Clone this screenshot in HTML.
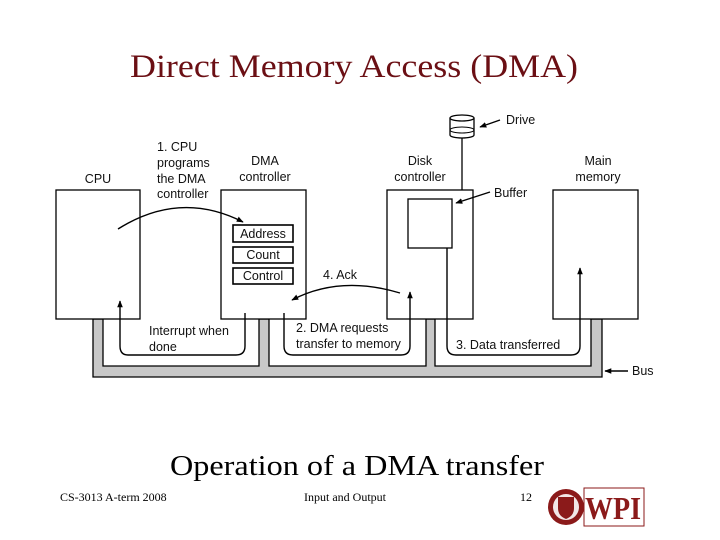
<!DOCTYPE html>
<html><head><meta charset="utf-8"><style>
html,body{margin:0;padding:0;background:#fff;width:720px;height:540px;overflow:hidden}
svg{display:block}
.s{font-family:"Liberation Sans",sans-serif;font-size:12.5px;fill:#111}
</style></head><body>
<svg width="720" height="540" viewBox="0 0 720 540">
<defs><marker id="a" viewBox="0 0 10 10" refX="9" refY="5" markerWidth="7" markerHeight="7" orient="auto-start-reverse" markerUnits="userSpaceOnUse"><path d="M0,1 L10,5 L0,9 z" fill="#000"/></marker></defs>
<text x="354" y="77" text-anchor="middle" font-family="Liberation Serif,serif" font-size="33" fill="#6b0f14" textLength="448" lengthAdjust="spacingAndGlyphs">Direct Memory Access (DMA)</text>

<!-- bus -->
<path d="M93,319 V377 H602 V319 H591 V366 H435 V319 H426 V366 H269 V319 H259 V366 H103 V319 Z" fill="#c8c8c8" stroke="#000" stroke-width="1.3"/>

<g fill="#fff" stroke="#000" stroke-width="1.3">
<rect x="56" y="190" width="84" height="129"/>
<rect x="221" y="190" width="85" height="129"/>
<rect x="387" y="190" width="86" height="129"/>
<rect x="553" y="190" width="85" height="129"/>
<rect x="408" y="199" width="44" height="49"/>
<rect x="233" y="225" width="60" height="17" stroke-width="1.6"/>
<rect x="233" y="247" width="60" height="16" stroke-width="1.6"/>
<rect x="233" y="268" width="60" height="16" stroke-width="1.6"/>
</g>
<text class="s" x="263" y="238" text-anchor="middle">Address</text>
<text class="s" x="263" y="259" text-anchor="middle">Count</text>
<text class="s" x="263" y="280" text-anchor="middle">Control</text>

<!-- drive -->
<line x1="462" y1="137" x2="462" y2="190" stroke="#000" stroke-width="1.3"/>
<path d="M450,118 V135 A12,3 0 0 0 474,135 V118" fill="#fff" stroke="#000" stroke-width="1.3"/>
<ellipse cx="462" cy="118" rx="12" ry="3" fill="#fff" stroke="#000" stroke-width="1.3"/>
<ellipse cx="462" cy="130" rx="12" ry="3" fill="none" stroke="#000" stroke-width="1"/>

<g fill="none" stroke="#000" stroke-width="1.4">
<path d="M118,229 Q180,190 243,222" marker-end="url(#a)"/>
<path d="M245,313 V346 Q245,355 236,355 H128 Q120,355 120,346 V301" marker-end="url(#a)"/>
<path d="M284,313 V346 Q284,355 293,355 H401 Q410,355 410,346 V292" marker-end="url(#a)"/>
<path d="M400,293 Q340,275 292,300" marker-end="url(#a)"/>
<path d="M447,248 V346 Q447,355 456,355 H571 Q580,355 580,346 V268" marker-end="url(#a)"/>
<path d="M500,120 L480,127" marker-end="url(#a)"/>
<path d="M490,192 L456,203" marker-end="url(#a)"/>
<path d="M628,371 L605,371" marker-end="url(#a)"/>
</g>

<text class="s" x="98" y="183" text-anchor="middle">CPU</text>
<text class="s" x="157" y="151">1. CPU</text>
<text class="s" x="157" y="167">programs</text>
<text class="s" x="157" y="183">the DMA</text>
<text class="s" x="157" y="198">controller</text>
<text class="s" x="265" y="165" text-anchor="middle">DMA</text>
<text class="s" x="265" y="181" text-anchor="middle">controller</text>
<text class="s" x="420" y="165" text-anchor="middle">Disk</text>
<text class="s" x="420" y="181" text-anchor="middle">controller</text>
<text class="s" x="598" y="165" text-anchor="middle">Main</text>
<text class="s" x="598" y="181" text-anchor="middle">memory</text>
<text class="s" x="506" y="124">Drive</text>
<text class="s" x="494" y="197">Buffer</text>
<text class="s" x="323" y="279">4. Ack</text>
<text class="s" x="149" y="335">Interrupt when</text>
<text class="s" x="149" y="351">done</text>
<text class="s" x="296" y="332">2. DMA requests</text>
<text class="s" x="296" y="348">transfer to memory</text>
<text class="s" x="456" y="349">3. Data transferred</text>
<text class="s" x="632" y="375">Bus</text>

<text x="357" y="475" text-anchor="middle" font-family="Liberation Serif,serif" font-size="28" fill="#000" textLength="374" lengthAdjust="spacingAndGlyphs">Operation of a DMA transfer</text>
<text x="60" y="501" font-family="Liberation Serif,serif" font-size="12" fill="#000">CS-3013 A-term 2008</text>
<text x="345" y="501" text-anchor="middle" font-family="Liberation Serif,serif" font-size="12" fill="#000">Input and Output</text>
<text x="520" y="501" font-family="Liberation Serif,serif" font-size="12" fill="#000">12</text>

<!-- logo -->
<circle cx="566" cy="507" r="18" fill="#8b1a1a"/>
<circle cx="566" cy="507" r="13" fill="#f2e6e6"/>
<path d="M558,497 H574 V508 Q574,516 566,519 Q558,516 558,508 Z" fill="#8b1a1a"/>
<rect x="584" y="488" width="60" height="38" fill="#fff" stroke="#8b1a1a" stroke-width="1"/>
<text x="613" y="519" text-anchor="middle" font-family="Liberation Serif,serif" font-weight="bold" font-size="32" fill="#8b1a1a" textLength="56" lengthAdjust="spacingAndGlyphs">WPI</text>
</svg>
</body></html>
